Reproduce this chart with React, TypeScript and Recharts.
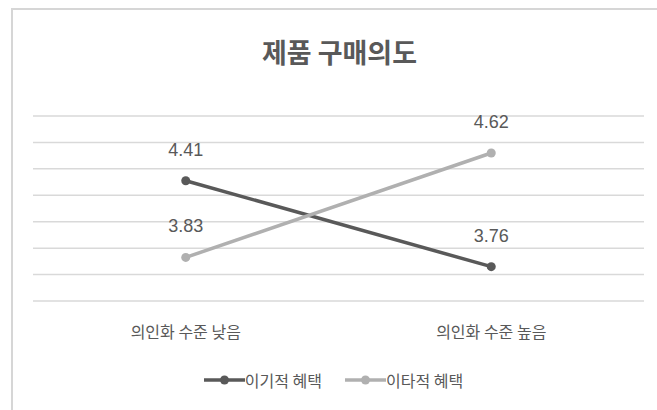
import React from 'react';
import { LineChart, Line, XAxis, YAxis, CartesianGrid, LabelList, Legend } from 'recharts';

const categories = ['의인화 수준 낮음', '의인화 수준 높음'];
const selfishValues = [4.41, 3.76];
const altruisticValues = [3.83, 4.62];
const yTicks = [3.5, 3.7, 3.9, 4.1, 4.3, 4.5, 4.7, 4.9];
const seriesNames = ['이기적 혜택', '이타적 혜택'];
const title = '제품 구매의도';

const data = categories.map((c, i) => ({
  name: c,
  selfish: selfishValues[i],
  altruistic: altruisticValues[i],
}));

const DARK = '#595959';
const LIGHT = '#b0b0b0';
const TEXT = '#595959';
const GRID = '#d9d9d9';
const KR = '"Noto Sans CJK KR", "Noto Sans", sans-serif';
const NUM = '"Liberation Sans", Arial, "Noto Sans CJK KR", sans-serif';

const XTick = (props: any) => {
  const { x, y, payload } = props;
  return (
    <text x={x} y={y + 30} textAnchor="middle" dominantBaseline="central" fontSize={16} fill={TEXT} fontFamily={KR}>
      {payload.value}
    </text>
  );
};

const ValueLabel = (props: any) => {
  const { x, y, value } = props;
  return (
    <text x={x} y={y - 31} textAnchor="middle" dominantBaseline="central" fontSize={18} fill={TEXT} fontFamily={NUM}>
      {value}
    </text>
  );
};

const LegendContent = () => {
  const items = [
    { name: seriesNames[0], color: DARK },
    { name: seriesNames[1], color: LIGHT },
  ];
  return (
    <div style={{ display: 'flex', justifyContent: 'center', alignItems: 'center', width: 657, paddingLeft: 5 }}>
      {items.map((it, i) => (
        <div key={it.name} style={{ display: 'flex', alignItems: 'center', marginLeft: i === 0 ? 0 : 23 }}>
          <svg width={41} height={12} style={{ display: 'block' }}>
            <line x1={0} y1={6} x2={41} y2={6} stroke={it.color} strokeWidth={3.5} />
            <circle cx={20.5} cy={6} r={4.5} fill={it.color} />
          </svg>
          <span style={{ fontSize: 16, color: TEXT, fontFamily: KR, lineHeight: '20px' }}>{it.name}</span>
        </div>
      ))}
    </div>
  );
};

export default function App() {
  return (
    <div style={{ position: 'absolute', left: 0, top: 0, width: 657, height: 410, overflow: 'hidden', background: '#fff' }}>
      <div
        style={{
          position: 'absolute',
          left: 11,
          top: 8,
          width: 700,
          height: 500,
          borderLeft: '2px solid #d6d6d6',
          borderTop: '2px solid #d6d6d6',
        }}
      />
      <svg width={657} height={90} style={{ position: 'absolute', left: 0, top: 0 }}>
        <text
          x={339.5}
          y={51}
          textAnchor="middle"
          dominantBaseline="central"
          fontSize={27}
          fontWeight="bold"
          fill={TEXT}
          fontFamily={KR}
          textLength={155}
          lengthAdjust="spacingAndGlyphs"
        >
          {title}
        </text>
      </svg>
      <div style={{ position: 'absolute', left: 0, top: 0 }}>
        <LineChart width={657} height={410} data={data} margin={{ top: 116, right: 13, bottom: 79, left: 33 }}>
          <CartesianGrid vertical={false} stroke={GRID} strokeWidth={1.5} />
          <XAxis
            dataKey="name"
            padding={{ left: 152.75, right: 152.75 }}
            axisLine={false}
            tickLine={false}
            tickSize={0}
            tickMargin={0}
            height={30}
            tick={<XTick />}
            interval={0}
          />
          <YAxis hide domain={[3.5, 4.9]} ticks={yTicks} type="number" allowDataOverflow />
          <Legend
            verticalAlign="middle"
            layout="horizontal"
            content={<LegendContent />}
            wrapperStyle={{ position: 'absolute', left: 0, top: 370, width: 657 }}
          />
          <Line
            dataKey="selfish"
            name={seriesNames[0]}
            stroke={DARK}
            strokeWidth={3.5}
            dot={{ r: 4.5, fill: DARK, stroke: DARK, strokeWidth: 0 }}
            isAnimationActive={false}
          >
            <LabelList dataKey="selfish" content={<ValueLabel />} />
          </Line>
          <Line
            dataKey="altruistic"
            name={seriesNames[1]}
            stroke={LIGHT}
            strokeWidth={3.5}
            dot={{ r: 4.5, fill: LIGHT, stroke: LIGHT, strokeWidth: 0 }}
            isAnimationActive={false}
          >
            <LabelList dataKey="altruistic" content={<ValueLabel />} />
          </Line>
        </LineChart>
      </div>
    </div>
  );
}
